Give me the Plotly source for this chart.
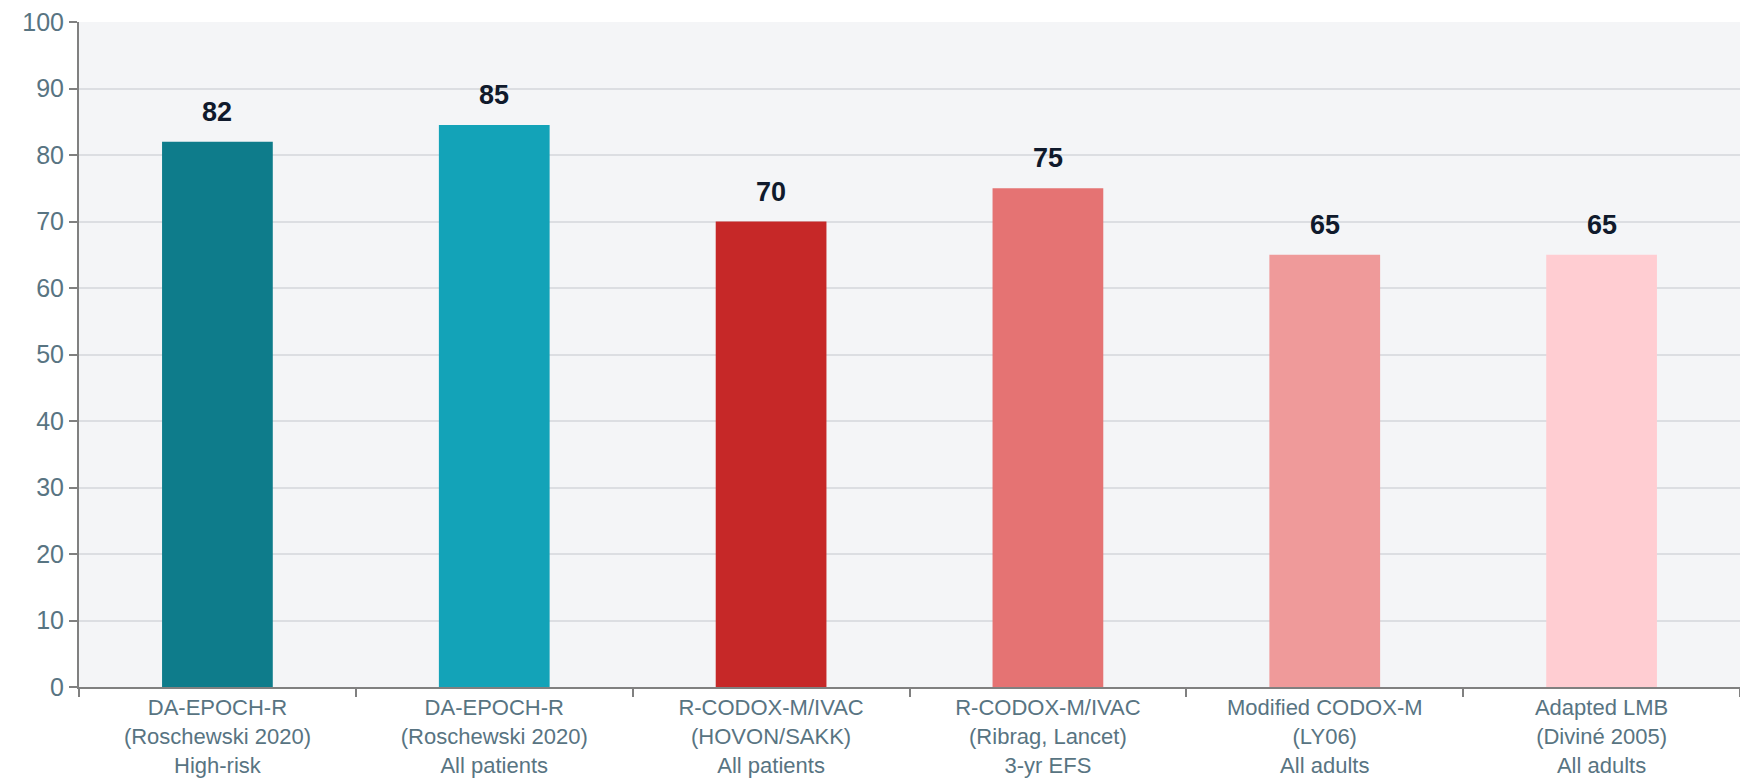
import plotly.graph_objects as go

regimens = ["DA-EPOCH-R", "DA-EPOCH-R", "R-CODOX-M/IVAC", "R-CODOX-M/IVAC",
            "Modified CODOX-M", "Adapted LMB"]
studies = ["(Roschewski 2020)", "(Roschewski 2020)", "(HOVON/SAKK)",
           "(Ribrag, Lancet)", "(LY06)", "(Diviné 2005)"]
groups = ["High-risk", "All patients", "All patients", "3-yr EFS",
          "All adults", "All adults"]
values = [82, 84.5, 70, 75, 65, 65]
value_labels = ["82", "85", "70", "75", "65", "65"]
colors = ["#0e7c8b", "#13a3b8", "#c62828", "#e57373", "#ef9a9a", "#ffcdd2"]

cats = [f"{r}<br>{s}<br>{g}" for r, s, g in zip(regimens, studies, groups)]

fig = go.Figure()
fig.add_trace(go.Bar(x=cats, y=values, marker_color=colors, marker_line_width=0,
                     hoverinfo="skip"))

for c, v, t in zip(cats, values, value_labels):
    fig.add_annotation(x=c, y=v, text=f"<b>{t}</b>", showarrow=False,
                       yanchor="bottom", yshift=13,
                       font=dict(size=27, color="#101a2c",
                                 family="Liberation Sans, Arial"))

fig.update_layout(
    width=1740, height=783,
    margin=dict(l=79, r=0, t=22, b=96, autoexpand=False),
    paper_bgcolor="white", plot_bgcolor="#f4f5f7",
    bargap=0.6, showlegend=False,
    font=dict(family="Liberation Sans, Arial", color="#587482"),
)
fig.update_yaxes(range=[0, 100], dtick=10, showgrid=True, gridcolor="#dcdee2",
                 gridwidth=1.5, showline=True, linecolor="#808080", linewidth=2,
                 ticks="outside", ticklen=8, tickcolor="#808080", tickwidth=2,
                 tickfont=dict(size=25, color="#587482"),
                 zeroline=False, automargin=False)
fig.update_xaxes(showline=True, linecolor="#808080", linewidth=2,
                 ticks="outside", ticklen=8, tickcolor="#808080", tickwidth=2,
                 tickson="boundaries", tickfont=dict(size=22, color="#587482"),
                 automargin=False)

# drop the default page margin so the figure fills the window exactly
fig.write_html("out.html", config={"displayModeBar": False},
               post_script="document.body.style.margin='0';"
                           "document.body.style.overflow='hidden';")
